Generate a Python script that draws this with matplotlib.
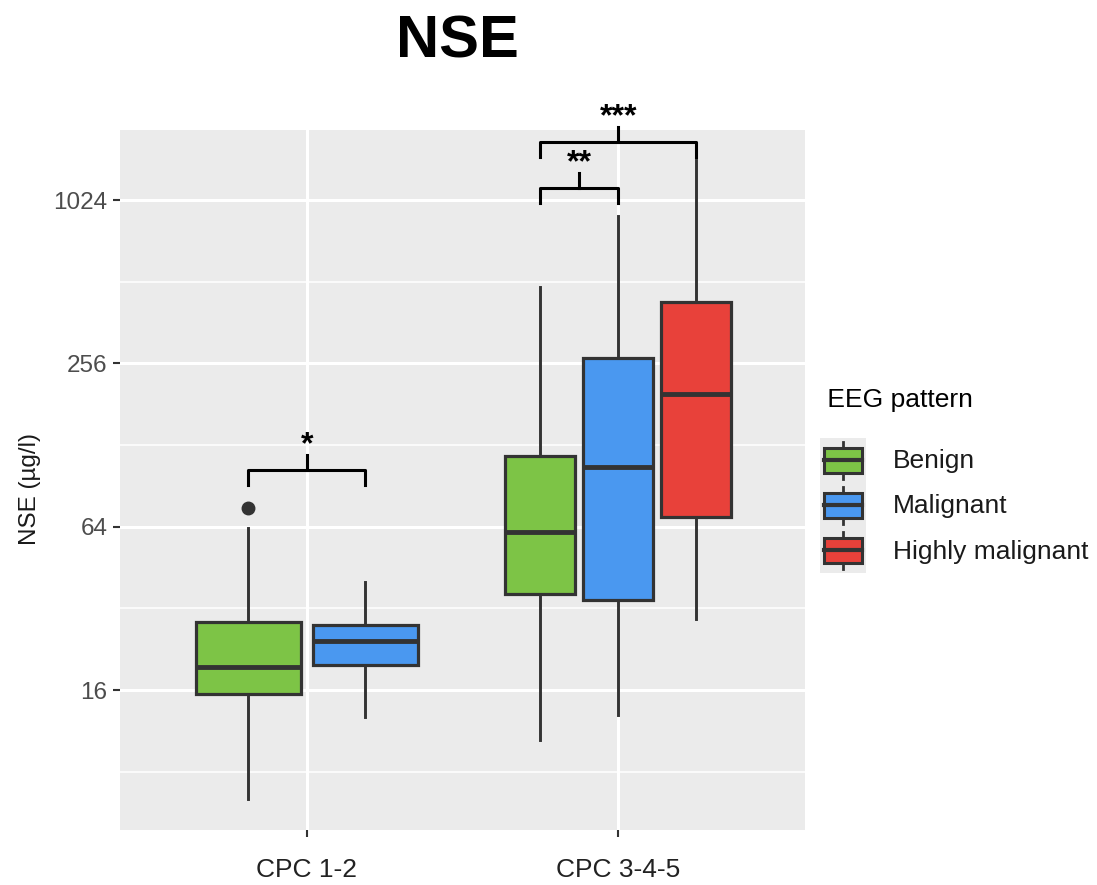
import numpy as np
import matplotlib
matplotlib.use("Agg")
import matplotlib.pyplot as plt
from matplotlib.patches import Patch, Rectangle
from matplotlib.lines import Line2D
from matplotlib.legend_handler import HandlerBase

plt.rcParams['font.family'] = ['Liberation Sans', 'DejaVu Sans']

# groups and box statistics (NSE, ug/l)
categories = ['CPC 1-2', 'CPC 3-4-5']
patterns = ['Benign', 'Malignant', 'Highly malignant']
pattern_colors = ['#7DC446', '#4A98F0', '#E8413A']

box_cat = [0, 0, 1, 1, 1]
box_pattern = [0, 1, 0, 1, 2]
whislo = [6.35, 12.7, 10.5, 12.9, 29.2]
q1 = [15.5, 19.8, 36.2, 34.3, 69.5]
med = [19.5, 24.3, 61.2, 106, 197.5]
q3 = [28.6, 27.8, 116.6, 268, 431]
whishi = [63.3, 40.0, 489, 894, 1438]
fliers = [[75.2], [], [], [], []]

y_ticks = [16, 64, 256, 1024]
y_minor = [8, 32, 128, 512]

# significance brackets: (left box, right box), label, bracket level
sig_pairs = [(0, 1), (2, 3), (2, 4)]
sig_labels = ['*', '**', '***']
sig_level = [103.5, 1134, 1675]

dark = '#333333'


class BoxKeyHandler(HandlerBase):
    # ggplot-like boxplot legend key
    def create_artists(self, legend, orig_handle, xdescent, ydescent,
                       width, height, fontsize, trans):
        x0, y0 = -xdescent, -ydescent
        bg = Rectangle((x0, y0), width, height, facecolor='#ebebeb',
                       edgecolor='none', transform=trans)
        bw, bh = width * 0.83, height * 0.56
        bx, by = x0 + (width - bw) / 2, y0 + (height - bh) / 2
        cx = x0 + width / 2
        w_top = Line2D([cx, cx], [by + bh, y0 + height * 0.91], color=dark,
                       lw=2, transform=trans)
        w_bot = Line2D([cx, cx], [by, y0 + height * 0.08], color=dark,
                       lw=2, transform=trans)
        box = Rectangle((bx, by), bw, bh, facecolor=orig_handle.get_facecolor(),
                        edgecolor=dark, lw=2.2, transform=trans)
        mid = Line2D([bx, bx + bw], [y0 + height / 2] * 2, color=dark,
                     lw=3, transform=trans)
        return [bg, w_top, w_bot, box, mid]


fig = plt.figure(figsize=(10.97, 8.85), dpi=100)
ax = fig.add_axes([120 / 1097, 1 - 830 / 885, 685 / 1097, 700 / 885])
ax.set_facecolor('#ebebeb')
for s in ax.spines.values():
    s.set_visible(False)

# dodge positions within each category
n_per_cat = [box_cat.count(c) for c in range(len(categories))]
positions, widths = [], []
for c, p in zip(box_cat, box_pattern):
    n = n_per_cat[c]
    slot = 0.75 / n
    idx = [pp for cc, pp in zip(box_cat, box_pattern) if cc == c].index(p)
    positions.append(c + 1 - 0.375 + slot * (idx + 0.5))
    widths.append(slot * 0.9)

stats = []
for i in range(len(box_cat)):
    stats.append(dict(whislo=whislo[i], q1=q1[i], med=med[i], q3=q3[i],
                      whishi=whishi[i], fliers=fliers[i]))

bp = ax.bxp(stats, positions=positions, widths=widths, patch_artist=True,
            showcaps=False,
            boxprops=dict(edgecolor=dark, linewidth=2.3),
            medianprops=dict(color=dark, linewidth=3.5, solid_capstyle='butt'),
            whiskerprops=dict(color=dark, linewidth=2.1),
            flierprops=dict(marker='o', markerfacecolor=dark,
                            markeredgecolor=dark, markersize=9))
for patch, p in zip(bp['boxes'], box_pattern):
    patch.set_facecolor(pattern_colors[p])

ax.set_yscale('log', base=2)
ax.set_ylim(4.88, 1855)
ax.set_xlim(0.4, 2.6)
ax.set_yticks(y_ticks)
ax.set_yticklabels([str(v) for v in y_ticks])
ax.set_yticks(y_minor, minor=True)
ax.yaxis.set_minor_formatter(matplotlib.ticker.NullFormatter())
ax.set_xticks([1, 2])
ax.set_xticklabels(categories)
ax.tick_params(which='major', length=5, width=1.5, color=dark)
ax.tick_params(which='minor', length=0)
ax.tick_params(axis='y', labelsize=17.5, labelcolor='#4d4d4d', pad=4)
ax.tick_params(axis='x', labelsize=19, labelcolor='#222222', pad=15)
ax.grid(which='major', color='white', linewidth=2.2)
ax.grid(which='minor', axis='y', color='white', linewidth=1.1)
ax.set_axisbelow(True)

ax.set_ylabel('NSE (µg/l)', fontsize=17.5, color='#1a1a1a', labelpad=9)
ax.yaxis.label.set_y(0.487)
ax.set_title('NSE', fontsize=43, fontweight='bold', pad=52)
ax.title.set_x(0.492)

# significance brackets
step = 2 ** (15 / 81.67)
for (a, b), lab, lvl in zip(sig_pairs, sig_labels, sig_level):
    xa, xb = positions[a], positions[b]
    xm = (xa + xb) / 2
    ax.plot([xa, xa, xb, xb], [lvl / step, lvl, lvl, lvl / step], color='black',
            lw=2.2, solid_joinstyle='round', clip_on=False)
    ax.plot([xm, xm], [lvl, lvl * step], color='black', lw=2.2, clip_on=False)
    ax.annotate(lab, (xm, lvl * step), xytext=(0, -3.5), textcoords='offset points',
                ha='center', va='bottom', fontsize=23, fontweight='bold',
                annotation_clip=False)

handles = [Patch(facecolor=c) for c in pattern_colors]
leg = ax.legend(handles, patterns, handler_map={Patch: BoxKeyHandler()},
                title=' EEG pattern', loc='upper left',
                bbox_to_anchor=(820 / 1097, 1 - 388 / 885),
                bbox_transform=fig.transFigure, frameon=False,
                fontsize=19, title_fontsize=19, handlelength=1.75,
                handleheight=2.25, labelspacing=0, handletextpad=1.0,
                borderpad=0, borderaxespad=0)
leg._legend_box.align = 'left'
leg._legend_box.sep = 18.5
for t in leg.get_texts():
    t.set_color('#1a1a1a')

fig.savefig('out.png', dpi=100)
